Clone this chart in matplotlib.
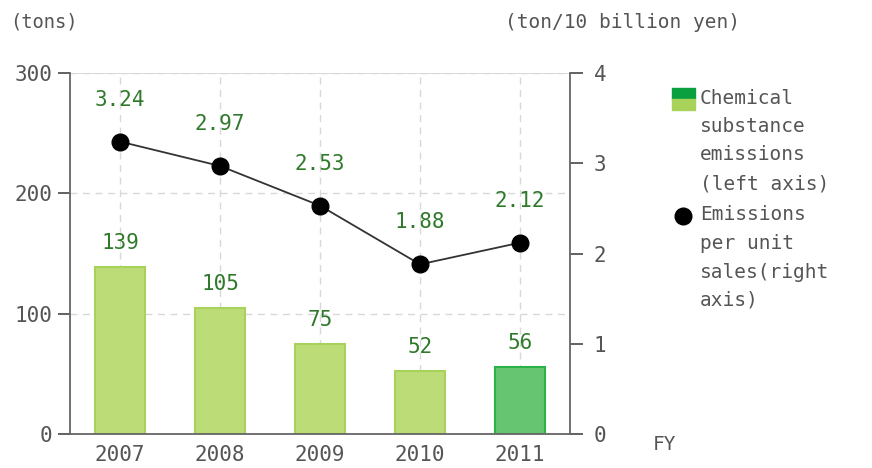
import numpy as np
import matplotlib.pyplot as plt
from matplotlib.patches import Rectangle

years = ['2007', '2008', '2009', '2010', '2011']
emissions = [139, 105, 75, 52, 56]
per_sales = [3.24, 2.97, 2.53, 1.88, 2.12]

light_green = '#bcdc78'
light_edge = '#a9d25c'
dark_green = '#66c570'
dark_edge = '#2db24a'
label_green = '#2f7a2a'
grey = '#555555'

plt.rcParams['font.family'] = ['DejaVu Sans Mono']

fig = plt.figure(figsize=(8.72, 4.68), dpi=100)
ax = fig.add_axes([0.0803, 0.0726, 0.5734, 0.7714])
x = np.arange(len(years))

colors = [light_green] * 4 + [dark_green]
edges = [light_edge] * 4 + [dark_edge]
ax.bar(x, emissions, width=0.5, color=colors, edgecolor=edges, linewidth=1.5, zorder=2)
for xi, v in zip(x, emissions):
    ax.text(xi, v + 20, str(v), ha='center', va='center', color=label_green, fontsize=15)

ax.set_xlim(-0.5, 4.5)
ax.set_ylim(0, 300)
ax.set_yticks([0, 100, 200, 300])
ax.set_xticks(x)
ax.set_xticklabels(years)
ax.tick_params(axis='y', colors=grey, labelsize=15, length=9, width=1.3, direction='out', pad=4)
ax.tick_params(axis='x', colors=grey, labelsize=15, length=0, pad=8)
ax.grid(True, color='#d8d8d8', linestyle=(0, (5, 4)), linewidth=1, zorder=0)
ax.set_axisbelow(True)
for s in ['top', 'right']:
    ax.spines[s].set_visible(False)
for s in ['left', 'bottom']:
    ax.spines[s].set_color('#666666')
    ax.spines[s].set_linewidth(1.3)
ax.axhline(300, color='#d8d8d8', linewidth=1.3, zorder=0)

ax2 = ax.twinx()
ax2.plot(x, per_sales, color='#333333', linewidth=1.3, marker='o', markersize=12,
         markerfacecolor='black', markeredgecolor='black', zorder=3)
for xi, v in zip(x, per_sales):
    ax2.text(xi, v + 0.465, f'{v:.2f}', ha='center', va='center', color=label_green, fontsize=15)
ax2.set_ylim(0, 4)
ax2.set_yticks([0, 1, 2, 3, 4])
ax2.tick_params(axis='y', colors=grey, labelsize=15, length=9, width=1.3, direction='out', pad=8)
for s in ['top', 'left', 'bottom']:
    ax2.spines[s].set_visible(False)
ax2.spines['right'].set_color('#666666')
ax2.spines['right'].set_linewidth(1.3)

fig.text(10 / 872, 1 - 22 / 468, '(tons)', color=grey, fontsize=13.5, va='center')
fig.text(505 / 872, 1 - 22 / 468, '(ton/10 billion yen)', color=grey, fontsize=14, va='center')
fig.text(653 / 872, 1 - 445 / 468, 'FY', color=grey, fontsize=14, va='center')

# legend
fig.patches.append(Rectangle((672 / 872, 1 - 99 / 468), 23 / 872, 11 / 468,
                             transform=fig.transFigure, color='#0aa040'))
fig.patches.append(Rectangle((672 / 872, 1 - 110 / 468), 23 / 872, 11 / 468,
                             transform=fig.transFigure, color='#a8d25a'))
legend1 = ['Chemical', 'substance', 'emissions', '(left axis)']
legend2 = ['Emissions', 'per unit', 'sales(right', 'axis)']
for i, line in enumerate(legend1):
    fig.text(700 / 872, 1 - (98 + 28.5 * i) / 468, line, color=grey, fontsize=14, va='center')
for i, line in enumerate(legend2):
    fig.text(700 / 872, 1 - (215 + 28.5 * i) / 468, line, color=grey, fontsize=14, va='center')
fig.lines.append(plt.Line2D([683 / 872], [1 - 216 / 468], transform=fig.transFigure,
                            marker='o', markersize=12, color='black'))

fig.savefig('out.png', dpi=100)
